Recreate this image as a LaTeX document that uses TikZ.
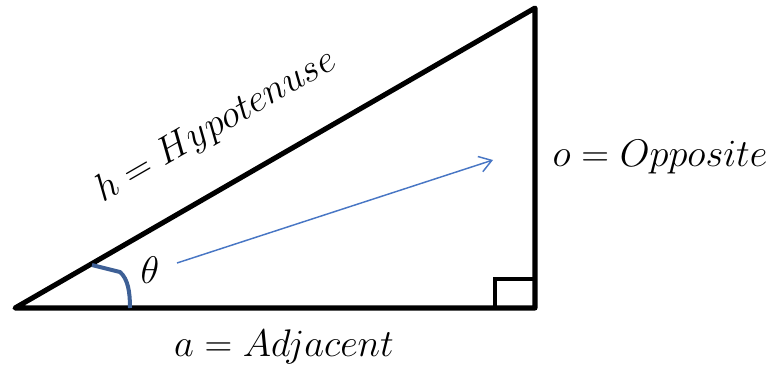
\documentclass[tikz,border=0pt]{standalone}
\usepackage{xcolor}
\usepackage{tikz}
\usetikzlibrary{arrows.meta}
\definecolor{ArcBlue}{RGB}{62,96,150}
\definecolor{VecBlue}{RGB}{72,118,196}

\begin{document}
\begin{tikzpicture}[x=0.75pt, y=-0.75pt,
          side/.style={line width=3.8pt, line cap=round, line join=round},
          lbl/.style={font=\fontsize{24.88}{28}\selectfont, inner sep=0pt,
                      scale=1.16},
          vec/.style={-{Straight Barb[length=9pt, width=12pt, line width=1.1pt]},
                      line width=1.1pt, draw=VecBlue}
        ]
        \useasboundingbox (0,0) rectangle (773,367);

        % Corners of the triangle
        \coordinate (A) at (15,308);
        \coordinate (B) at (535,308);
        \coordinate (C) at (535,8);

        \draw[side] (A) -- (B) -- (C) -- cycle;

        % Right angle mark
        \coordinate (sq1) at (495,308);
        \coordinate (sq2) at (495,279);
        \coordinate (sq3) at (535,279);
        \draw[line width=3pt] (sq1) -- (sq2) -- (sq3);

        % Angle mark
        \coordinate (ang1) at (92,265);
        \coordinate (ang2) at (120,272);
        \coordinate (ang3) at (130,308);
        \draw[line width=3pt, draw=ArcBlue, line join=round]
              (ang1) -- (ang2) .. controls (128,279) and (130,292) .. (ang3);

        % Labels
        \node[lbl] (theta) at (150,270) {$\theta$};
        \node[lbl, rotate=30] (hyp) at (216,126) {$h = Hypotenuse$};
        \node[lbl] (opp) at (660,157) {$o = Opposite$};
        \node[lbl] (adj) at (284,347) {$a = Adjacent$};

        % Direction arrow
        \coordinate (tail) at (177,263);
        \coordinate (tip) at (493,160);
        \draw[vec] (tail) -- (tip);
      \end{tikzpicture}
\end{document}
